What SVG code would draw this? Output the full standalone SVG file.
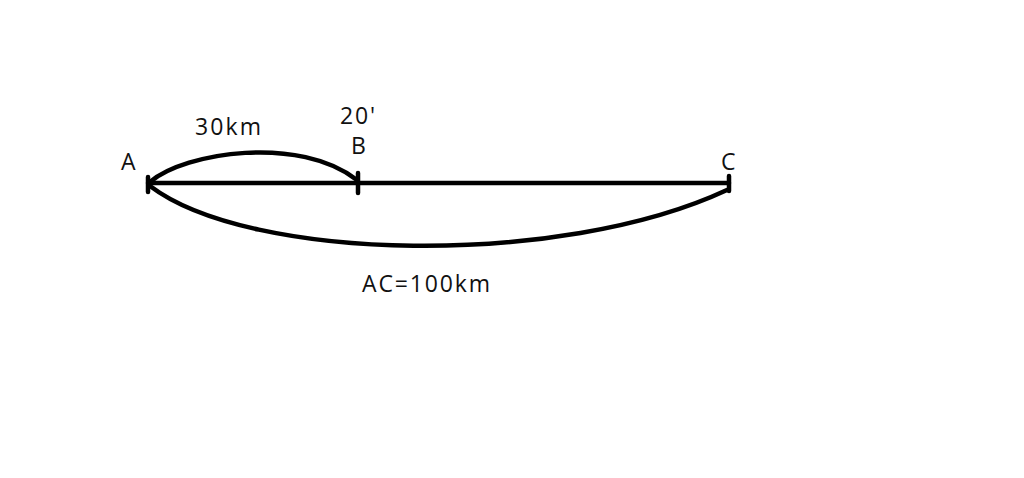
<svg xmlns="http://www.w3.org/2000/svg" width="1024" height="478" viewBox="0 0 1024 478">
<style>
.ln{fill:none;stroke:#000;stroke-width:4.5;stroke-linecap:round}
.t{font-family:"Open Sans","Liberation Sans",Arial,sans-serif;font-size:23px;fill:#111}
</style>
<rect width="1024" height="478" fill="#fff"/>
<g id="connectors">
<path class="ln" d="M148,183 H729"/>
<path class="ln" d="M150,182 C185,152 300,135 357,180"/>
<path class="ln" d="M150,186 C250,262 560,268 727,190"/>
</g>
<g id="A"><path class="ln" d="M148,177 V192"/><text class="t" x="121" y="170">A</text></g>
<g id="B"><path class="ln" d="M358,173 V193"/><text class="t" x="351" y="154">B</text><text class="t" x="340" y="124" textLength="35">20'</text></g>
<g id="C"><path class="ln" d="M729,176 V191"/><text class="t" x="721" y="170">C</text></g>
<g id="labels">
<text class="t" x="195" y="135" textLength="66">30km</text>
<text class="t" x="362" y="292" textLength="128">AC=100km</text>
</g>
</svg>
